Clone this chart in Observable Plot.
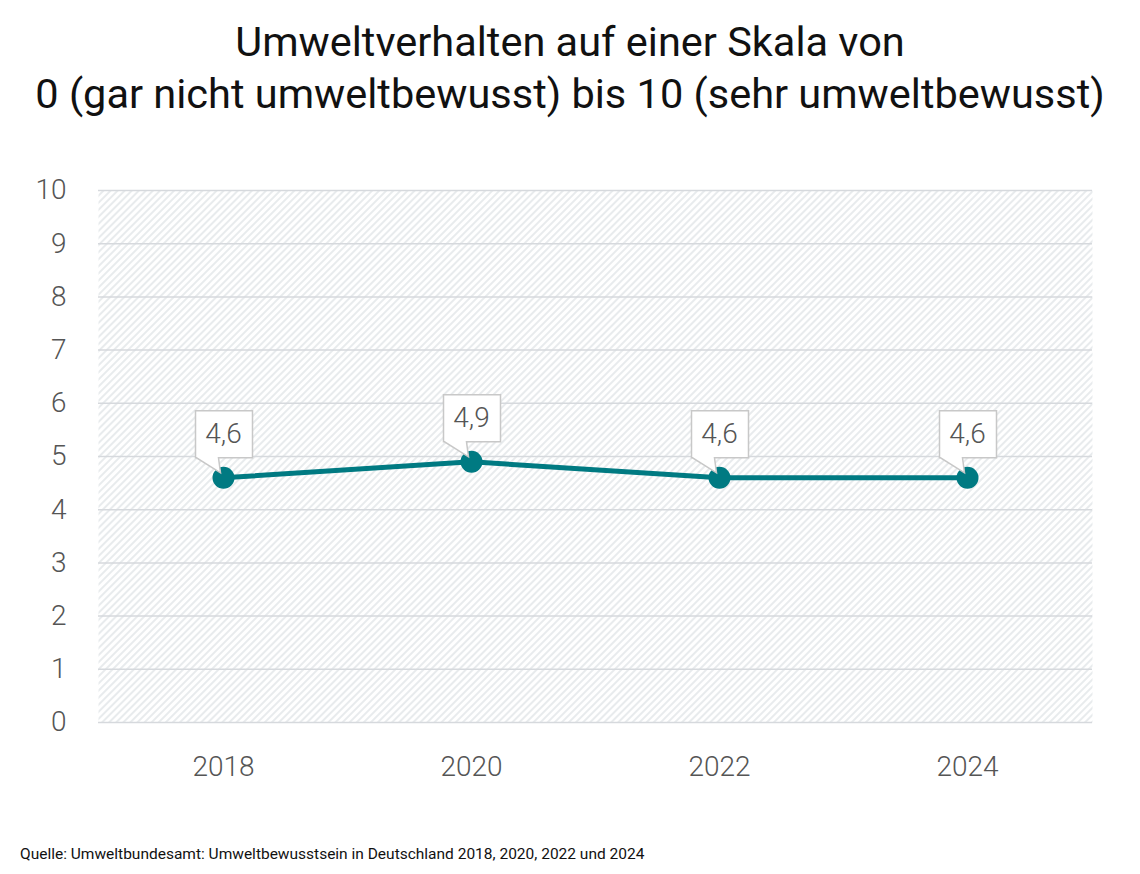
<!DOCTYPE html>
<html><head><meta charset="utf-8">
<script src="https://cdn.jsdelivr.net/npm/d3@7"></script>
<script src="https://cdn.jsdelivr.net/npm/@observablehq/plot@0.6"></script>
<style>
body{margin:0;background:#fff;font-family:Roboto,sans-serif;width:1140px}
#title{text-align:center;font-size:41.5px;line-height:52px;padding-top:16px;color:#111;height:106px}
#caption{font-size:15.5px;line-height:20px;padding-left:20px;padding-top:46px;color:#111}
#chart svg{display:block}
</style></head><body>
<div id="title">Umweltverhalten auf einer Skala von<br>0 (gar nicht umweltbewusst) bis 10 (sehr umweltbewusst)</div>
<div id="chart"></div>
<div id="caption">Quelle: Umweltbundesamt: Umweltbewusstsein in Deutschland 2018, 2020, 2022 und 2024</div>
<script>
const years = ["2018", "2020", "2022", "2024"];
const values = [4.6, 4.9, 4.6, 4.6];
const yTicks = [0, 1, 2, 3, 4, 5, 6, 7, 8, 9, 10];
const data = years.map((year, i) => ({year, value: values[i]}));
const fmt = v => v.toFixed(1).replace(".", ",");
const labelDy = -43.5;

function callouts(index, scales, vals, dims, context, next) {
  const g = next(index, scales, vals, dims, context);
  const ns = "http://www.w3.org/2000/svg";
  const first = g.firstChild;
  for (const i of index) {
    const px = vals.x[i], py = vals.y[i] - labelDy;
    const L = px - 28, R = px + 29, T = py - 67, B = py - 20;
    const p = document.createElementNS(ns, "path");
    p.setAttribute("d", `M${L},${T}H${R}V${B}H${px - 5}L${px - 3},${py - 5}L${L + 1},${B}H${L}Z`);
    p.setAttribute("fill", "#fff");
    p.setAttribute("stroke", "#c8c8c8");
    p.setAttribute("stroke-width", "1.5");
    g.insertBefore(p, first);
  }
  return g;
}

const plot = Plot.plot({
  width: 1140, height: 676,
  marginLeft: 98, marginRight: 48, marginTop: 68, marginBottom: 76,
  x: {type: "point", domain: years, padding: 0.5, label: null},
  y: {domain: [0, 10], label: null},
  style: {fontFamily: "Roboto, sans-serif", fontSize: "28px", color: "#555", background: "transparent"},
  marks: [
    Plot.frame({fill: "url(#hatch)", stroke: "none"}),
    Plot.gridY(yTicks, {stroke: "#d6d9dd", strokeOpacity: 1, strokeWidth: 1.5}),
    Plot.axisY(yTicks, {tickSize: 0, tickPadding: 32, fontSize: 28, fontWeight: 300, fill: "#555", label: null, tickFormat: d => String(d)}),
    Plot.axisX(years, {tickSize: 0, tickPadding: 34, fontSize: 28, fontWeight: 300, fill: "#555", label: null}),
    Plot.line(data, {x: "year", y: "value", stroke: "#007a82", strokeWidth: 5}),
    Plot.dot(data, {x: "year", y: "value", r: 11, fill: "#007a82"}),
    Plot.text(data, {x: "year", y: "value", text: d => fmt(d.value), dy: labelDy, fontSize: 28, fontWeight: 300, fill: "#555", render: callouts})
  ]
});

const svg = d3.select(plot);
const defs = svg.insert("defs", ":first-child");
const pat = defs.append("pattern").attr("id", "hatch").attr("patternUnits", "userSpaceOnUse")
  .attr("width", 5).attr("height", 5).attr("patternTransform", "rotate(45)");
pat.append("rect").attr("width", 5).attr("height", 5).attr("fill", "#fff");
pat.append("line").attr("x1", 1).attr("y1", 0).attr("x2", 1).attr("y2", 5).attr("stroke", "#e3e6e9").attr("stroke-width", 1.6);
svg.selectAll('[aria-label="frame"]').attr("fill", "url(#hatch)");
svg.selectAll('[aria-label="frame"] rect').attr("fill", "url(#hatch)");
document.getElementById("chart").append(plot);
</script>
</body></html>
